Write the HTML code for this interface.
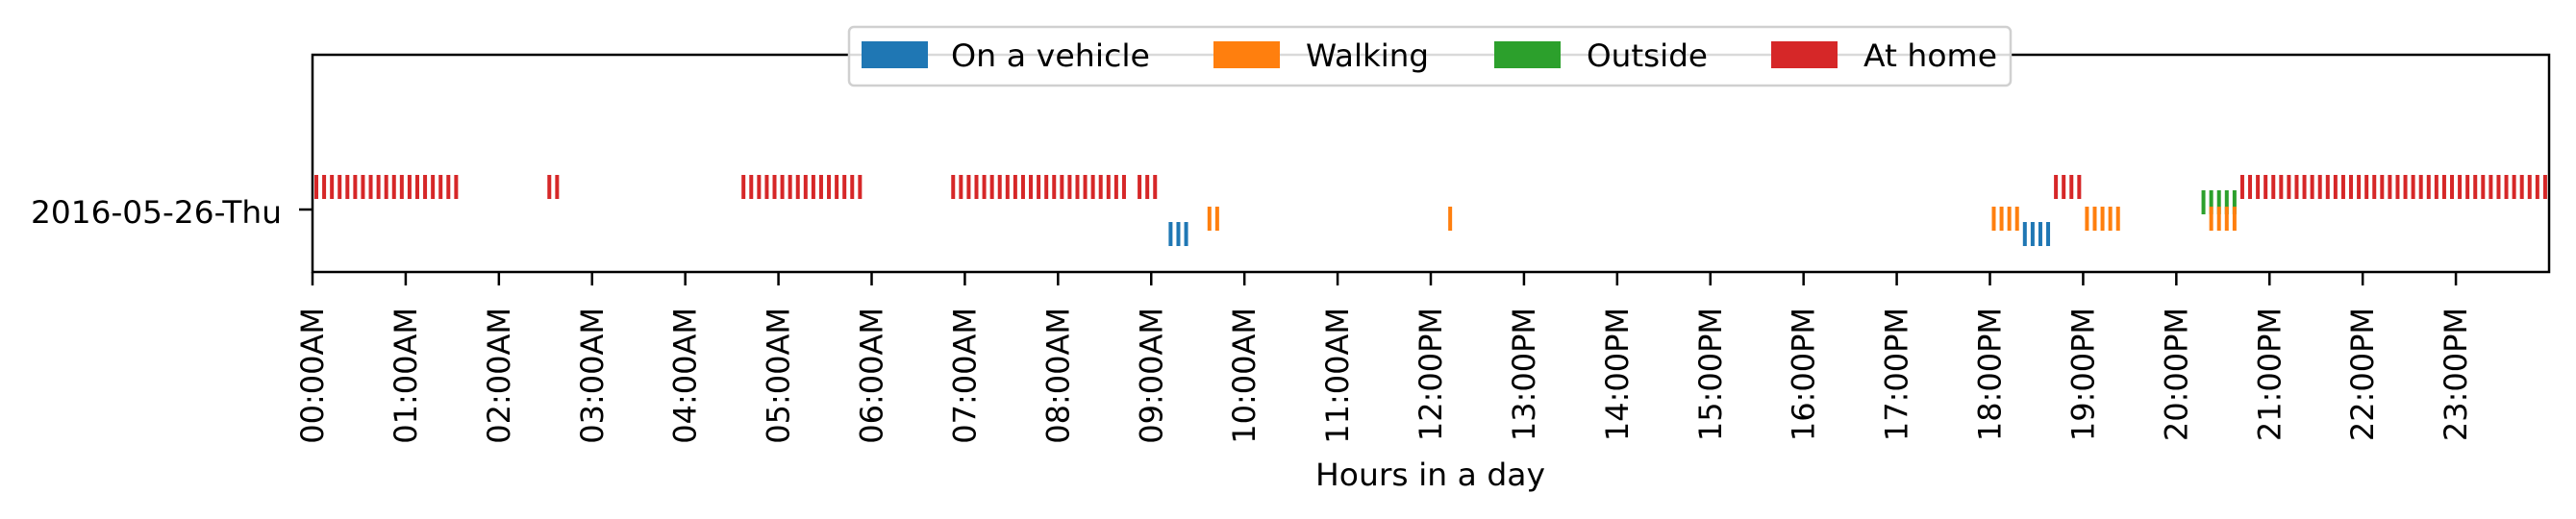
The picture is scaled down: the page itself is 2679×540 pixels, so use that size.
<!DOCTYPE html>
<html><head><meta charset="utf-8"><style>
html,body{margin:0;padding:0;background:#fff;}
svg{display:block;font-family:"DejaVu Sans","Liberation Sans",sans-serif;}
</style></head><body>
<svg id="chart" width="2679" height="540" viewBox="0 0 2679 540" xmlns="http://www.w3.org/2000/svg">
<rect width="2679" height="540" fill="#fff"/>
<g id="marks"></g>
<rect x="325" y="57" width="2326" height="226" fill="none" stroke="#000" stroke-width="2.5"/>
<g id="xticks"></g>
<line x1="311" y1="218" x2="325" y2="218" stroke="#000" stroke-width="2.5"/>
<text x="32" y="232" font-size="32" textLength="261" lengthAdjust="spacingAndGlyphs">2016-05-26-Thu</text>
<text x="1368" y="505" font-size="32" textLength="239" lengthAdjust="spacingAndGlyphs">Hours in a day</text>
<g>
<rect x="883" y="28" width="1208" height="61" rx="5" fill="#fff" fill-opacity="0.85" stroke="#d0d0d0" stroke-width="2.5"/>
<g><rect x="896" y="43" width="69" height="28" fill="#1f77b4"/><text x="989" y="69" font-size="32" textLength="207" lengthAdjust="spacingAndGlyphs">On a vehicle</text></g>
<g><rect x="1262" y="43" width="69" height="28" fill="#ff7f0e"/><text x="1358" y="69" font-size="32" textLength="128" lengthAdjust="spacingAndGlyphs">Walking</text></g>
<g><rect x="1554" y="43" width="69" height="28" fill="#2ca02c"/><text x="1650" y="69" font-size="32" textLength="126" lengthAdjust="spacingAndGlyphs">Outside</text></g>
<g><rect x="1842" y="43" width="69" height="28" fill="#d62728"/><text x="1938" y="69" font-size="32" textLength="139" lengthAdjust="spacingAndGlyphs">At home</text></g>
</g>
</svg>
<script>
const hourTicks = [0,1,2,3,4,5,6,7,8,9,10,11,12,13,14,15,16,17,18,19,20,21,22,23];
const hourLabels = ["00:00AM","01:00AM","02:00AM","03:00AM","04:00AM","05:00AM","06:00AM","07:00AM","08:00AM","09:00AM","10:00AM","11:00AM","12:00PM","13:00PM","14:00PM","15:00PM","16:00PM","17:00PM","18:00PM","19:00PM","20:00PM","21:00PM","22:00PM","23:00PM"];
const homeMinutes = [0,5,10,15,20,25,30,35,40,45,50,55,60,65,70,75,80,85,90,150,155,275,280,285,290,295,300,305,310,315,320,325,330,335,340,345,350,410,415,420,425,430,435,440,445,450,455,460,465,470,475,480,485,490,495,500,505,510,515,520,530,535,540,1120,1125,1130,1135,1240,1245,1250,1255,1260,1265,1270,1275,1280,1285,1290,1295,1300,1305,1310,1315,1320,1325,1330,1335,1340,1345,1350,1355,1360,1365,1370,1375,1380,1385,1390,1395,1400,1405,1410,1415,1420,1425,1430,1435];
const vehicleMinutes = [550,555,560,1100,1105,1110,1115];
const walkingMinutes = [575,580,730,1080,1085,1090,1095,1140,1145,1150,1155,1160,1220,1225,1230,1235];
const outsideMinutes = [1215,1220,1225,1230,1235];
const seriesNames = ["at-home","outside","walking","vehicle"];

const NS = "http://www.w3.org/2000/svg";
const X0 = 325, X1 = 2651;
function xScale(min){ return X0 + (X1 - X0) * min / 1440; }
const laneTop = {"at-home":182,"outside":198,"walking":215,"vehicle":231};
const laneColor = {"at-home":"#d62728","outside":"#2ca02c","walking":"#ff7f0e","vehicle":"#1f77b4"};
const seriesData = {"at-home":homeMinutes,"outside":outsideMinutes,"walking":walkingMinutes,"vehicle":vehicleMinutes};

const marks = document.getElementById("marks");
seriesNames.forEach(function(s){
  seriesData[s].forEach(function(m){
    const r = document.createElementNS(NS,"rect");
    r.setAttribute("x", xScale(m) + 2);
    r.setAttribute("y", laneTop[s]);
    r.setAttribute("width", 4);
    r.setAttribute("height", 25);
    r.setAttribute("fill", laneColor[s]);
    
    
    marks.appendChild(r);
  });
});

const xt = document.getElementById("xticks");
hourTicks.forEach(function(h, i){
  const x = xScale(h * 60);
  const l = document.createElementNS(NS,"line");
  l.setAttribute("x1", x); l.setAttribute("x2", x);
  l.setAttribute("y1", 283); l.setAttribute("y2", 297);
  l.setAttribute("stroke", "#000"); l.setAttribute("stroke-width", 2.5);
  
  
  xt.appendChild(l);
  const t = document.createElementNS(NS,"text");
  t.setAttribute("transform", "translate(" + (x + 11) + ",320) rotate(-90)");
  t.setAttribute("text-anchor", "end");
  t.setAttribute("font-size", 32);
  t.textContent = hourLabels[i];
  
  
  xt.appendChild(t);
});
</script>
</body></html>
